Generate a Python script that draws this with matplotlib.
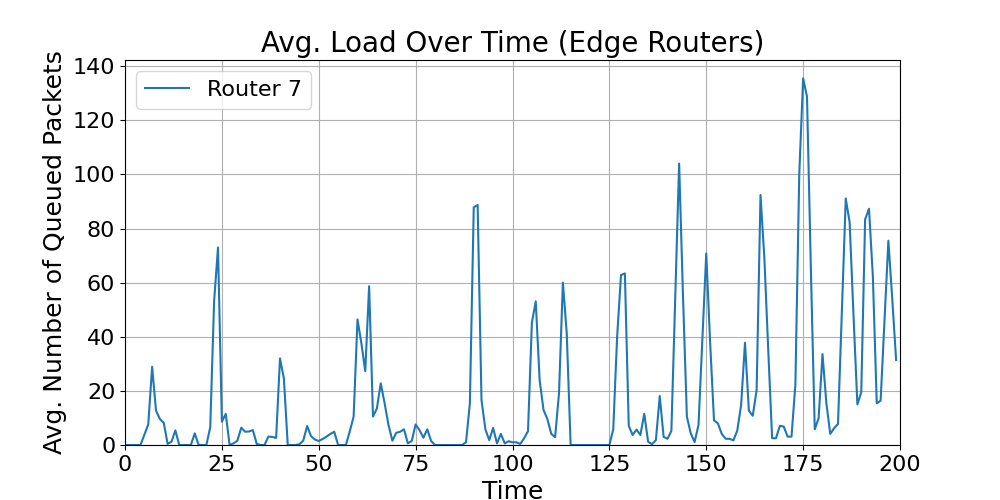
import numpy as np
import matplotlib
matplotlib.use("Agg")
import matplotlib.pyplot as plt

# queued packets per time step
load_router7 = [
    0, 0, 0, 0, 0, 3.8, 7.6, 28.9, 12.7, 9.6,
    8.2, 0.4, 1.2, 5.4, 0, 0, 0, 0, 4.3, 0,
    0, 0, 6.6, 53.2, 73.0, 8.6, 11.5, 0, 0.6, 1.6,
    6.4, 4.9, 5.0, 5.5, 0.4, 0, 0, 3.1, 3.0, 2.6,
    32.0, 24.6, 0, 0, 0, 0.3, 1.6, 7.0, 3.3, 2.0,
    1.5, 2.2, 3.1, 4.1, 4.9, 0, 0, 0, 5.0, 10.5,
    46.4, 37.6, 27.3, 58.7, 10.5, 13.5, 22.8, 15.4, 7.4, 1.6,
    4.5, 4.9, 5.8, 0.6, 1.5, 7.6, 5.5, 2.7, 5.8, 1.5,
    0, 0, 0, 0, 0, 0, 0, 0, 1.0, 15.4,
    87.8, 88.7, 16.6, 5.8, 1.8, 6.3, 0.6, 4.1, 0.6, 1.4,
    1.0, 1.0, 0.4, 2.5, 5.1, 45.2, 53.1, 24.0, 13.0, 9.6,
    4.1, 2.9, 19.1, 60.0, 41.3, 0, 0, 0, 0, 0,
    0, 0, 0, 0, 0, 0, 5.8, 40.0, 62.8, 63.4,
    7.1, 3.7, 5.7, 3.7, 11.5, 1.2, 0.3, 1.8, 18.1, 3.0,
    2.3, 5.2, 55.0, 104.0, 55.0, 10.5, 4.3, 1.1, 7.4, 39.0,
    70.8, 38.0, 9.1, 8.0, 4.1, 2.3, 2.3, 1.7, 5.3, 14.8,
    37.8, 12.7, 10.8, 20.3, 92.4, 69.0, 35.0, 2.5, 2.5, 7.1,
    6.8, 3.1, 3.1, 22.2, 100.0, 135.5, 128.7, 65.0, 5.8, 9.9,
    33.6, 15.4, 4.1, 6.2, 7.8, 50.0, 91.1, 82.3, 48.0, 15.0,
    19.5, 83.4, 87.3, 62.2, 15.4, 16.4, 46.0, 75.5, 54.0, 31.4,
]
time_steps = np.arange(len(load_router7))

fig, ax = plt.subplots(figsize=(10, 5), dpi=100)
ax.plot(time_steps, load_router7, label="Router 7")

ax.set_xlim(0, 200)
ax.set_ylim(bottom=0)
ax.set_title("Avg. Load Over Time (Edge Routers)", fontsize=20)
ax.set_xlabel("Time", fontsize=18)
ax.set_ylabel("Avg. Number of Queued Packets", fontsize=18)
ax.tick_params(axis="both", labelsize=16)
ax.grid(True)
ax.legend(loc="upper left", fontsize=16)

fig.savefig("out.png")
